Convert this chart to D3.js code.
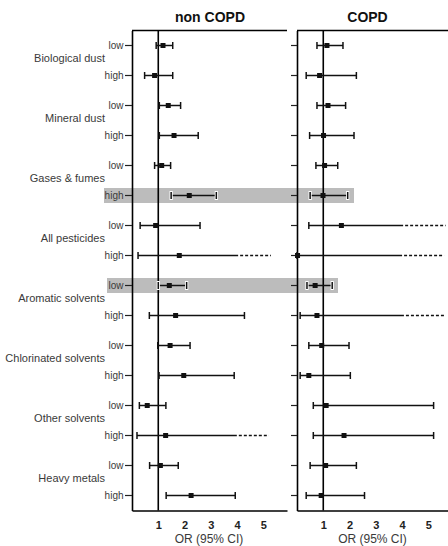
<!DOCTYPE html>
<html>
<head>
<meta charset="utf-8">
<script src="https://cdn.jsdelivr.net/npm/d3@7"></script>
<style>
  html, body { margin: 0; padding: 0; background: #fff; }
  svg { display: block; font-family: "Liberation Sans", Arial, sans-serif; }
</style>
</head>
<body>
<svg id="chart" width="448" height="546"></svg>
<script>
// Exposure groups, each shown at a low and a high exposure level
const groups = ["Biological dust", "Mineral dust", "Gases & fumes", "All pesticides",
                "Aromatic solvents", "Chlorinated solvents", "Other solvents", "Heavy metals"];
const levels = ["low", "high"];
const xTicks = [1, 2, 3, 4, 5];

// Odds ratios with 95% CI, one entry per group x level (low, high)
const nonCopdOR = [1.18, 0.86, 1.38, 1.60, 1.13, 2.18, 0.90, 1.80, 1.42, 1.66, 1.45, 1.97, 0.58, 1.28, 1.08, 2.25];
const nonCopdLo = [0.92, 0.48, 1.04, 1.04, 0.86, 1.49, 0.31, 0.23, 1.00, 0.66, 0.98, 1.03, 0.28, 0.19, 0.67, 1.30];
const nonCopdHi = [1.55, 1.55, 1.85, 2.52, 1.47, 3.21, 2.59, 5.29, 2.08, 4.28, 2.21, 3.89, 1.29, 5.21, 1.76, 3.93];
// where an off-scale upper limit switches to a dotted continuation
const nonCopdBreak = [null, null, null, null, null, null, null, 4.04, null, null, null, null, null, 3.99, null, null];

const copdOR = [1.14, 0.86, 1.18, 1.01, 1.05, 0.99, 1.69, 0.02, 0.69, 0.76, 0.94, 0.45, 1.11, 1.79, 1.09, 0.92];
const copdLo = [0.76, 0.35, 0.76, 0.48, 0.72, 0.50, 0.45, 0.00, 0.38, 0.12, 0.45, 0.12, 0.62, 0.62, 0.50, 0.35];
const copdHi = [1.75, 2.26, 1.85, 2.17, 1.55, 1.93, 5.66, 5.60, 1.34, 5.66, 1.98, 2.03, 5.20, 5.20, 2.26, 2.57];
const copdBreak = [null, null, null, null, null, null, 4.04, 4.00, null, 4.07, null, null, null, null, null, null];

const panelTitles = ["non COPD", "COPD"];
const xAxisTitle = "OR (95% CI)";

// rows: group x level
const rows = [];
groups.forEach((g, gi) => levels.forEach((l, li) => rows.push({ group: g, level: l, i: gi * 2 + li })));

const svg = d3.select("#chart");
const plotTop = 30.5, plotBottom = 510.5, panelW = 155;
const y = d3.scaleBand().domain(d3.range(rows.length)).range([plotTop, plotBottom]);
const yc = i => y(i) + y.bandwidth() / 2;

const panels = [
  { title: panelTitles[0], x0: 132, titleX: 210, labelX: 209, or: nonCopdOR, lo: nonCopdLo, hi: nonCopdHi, brk: nonCopdBreak, labels: true },
  { title: panelTitles[1], x0: 297, titleX: 367.5, labelX: 372.5, or: copdOR, lo: copdLo, hi: copdHi, brk: copdBreak, labels: false }
];
panels.forEach(p => {
  p.x = d3.scaleLinear().domain([0, 5.9]).range([p.x0, p.x0 + panelW]);
});

// grey highlight bands behind selected rows
const highlights = [
  { row: 5, x1: 104, x2: 354 },
  { row: 8, x1: 107, x2: 338 }
];
const highlighted = new Set(highlights.map(h => h.row));
svg.append("g").selectAll("rect").data(highlights).join("rect")
  .attr("x", d => d.x1).attr("width", d => d.x2 - d.x1)
  .attr("y", d => yc(d.row) - 7.5).attr("height", 15)
  .attr("fill", "#bcbcbc");

// group labels
svg.append("g").selectAll("text").data(groups).join("text")
  .attr("x", 105)
  .attr("y", (d, i) => (yc(i * 2) + yc(i * 2 + 1)) / 2 + 1.5)
  .attr("text-anchor", "end")
  .attr("font-size", 11)
  .attr("fill", "#3a3a3a")
  .text(d => d);

panels.forEach(p => {
  const g = svg.append("g");
  const x = p.x;

  // title
  g.append("text")
    .attr("x", p.titleX).attr("y", 21.5)
    .attr("text-anchor", "middle")
    .attr("font-size", 14).attr("font-weight", "bold")
    .attr("fill", "#111")
    .text(p.title);

  // left axis with low/high ticks
  const yAxis = d3.axisLeft(y)
    .tickSize(p.labels ? 7 : 6)
    .tickSizeOuter(0)
    .tickPadding(1.5)
    .tickFormat(i => p.labels ? rows[i].level : "");
  const ya = g.append("g").attr("transform", `translate(${p.x0},0)`).call(yAxis);
  ya.select(".domain").attr("stroke", "#000").attr("stroke-width", 1.6);
  ya.selectAll(".tick line").attr("stroke", "#222").attr("stroke-width", 1.2);
  ya.selectAll(".tick text").attr("font-size", 10).attr("fill", "#3a3a3a")
    .attr("font-family", "Liberation Sans, Arial, sans-serif");

  // bottom axis
  const xAxis = d3.axisBottom(x).tickValues(xTicks).tickSize(0).tickSizeOuter(0).tickPadding(11).tickFormat(d3.format("d"));
  const xa = g.append("g").attr("transform", `translate(0,${plotBottom})`).call(xAxis);
  xa.select(".domain").attr("stroke", "#000").attr("stroke-width", 1.6);
  xa.selectAll(".tick text").attr("font-size", 11).attr("font-weight", "bold").attr("fill", "#222")
    .attr("font-family", "Liberation Sans, Arial, sans-serif");

  // top frame line
  g.append("line")
    .attr("x1", x.range()[0]).attr("x2", x.range()[1])
    .attr("y1", plotTop).attr("y2", plotTop)
    .attr("stroke", "#000").attr("stroke-width", 1.6);

  // reference line at OR = 1
  g.append("line")
    .attr("x1", x(1)).attr("x2", x(1))
    .attr("y1", plotTop).attr("y2", plotBottom)
    .attr("stroke", "#000").attr("stroke-width", 1.6);

  // axis title
  g.append("text")
    .attr("x", p.labelX).attr("y", 543)
    .attr("text-anchor", "middle")
    .attr("font-size", 12).attr("fill", "#3a3a3a")
    .text(xAxisTitle);

  // confidence intervals
  const ci = g.append("g").attr("stroke", "#111").attr("stroke-width", 1.5);
  const cap = (v, cy, hl) => {
    if (hl) {
      ci.append("rect").attr("x", x(v) - 1.6).attr("y", cy - 4.5).attr("width", 3.2).attr("height", 9)
        .attr("fill", "#fff").attr("stroke", "none");
    }
    ci.append("line").attr("x1", x(v)).attr("x2", x(v)).attr("y1", cy - 3.5).attr("y2", cy + 3.5);
  };
  rows.forEach(r => {
    const i = r.i, cy = yc(i);
    const lo = p.lo[i], hi = p.hi[i], brk = p.brk[i];
    const hl = highlighted.has(i);
    const solidEnd = brk == null ? hi : brk;
    ci.append("line").attr("x1", x(lo)).attr("x2", x(solidEnd)).attr("y1", cy).attr("y2", cy);
    cap(lo, cy, hl);
    if (brk == null) {
      cap(hi, cy, hl);
    } else {
      ci.append("line").attr("x1", x(brk) + 2).attr("x2", x(hi)).attr("y1", cy).attr("y2", cy)
        .attr("stroke-dasharray", "3,2");
    }
  });

  // point estimates
  g.append("g").selectAll("rect").data(rows).join("rect")
    .attr("x", d => x(p.or[d.i]) - 2.5)
    .attr("y", d => yc(d.i) - 2.5)
    .attr("width", 5).attr("height", 5)
    .attr("fill", "#111");
});
</script>
</body>
</html>
